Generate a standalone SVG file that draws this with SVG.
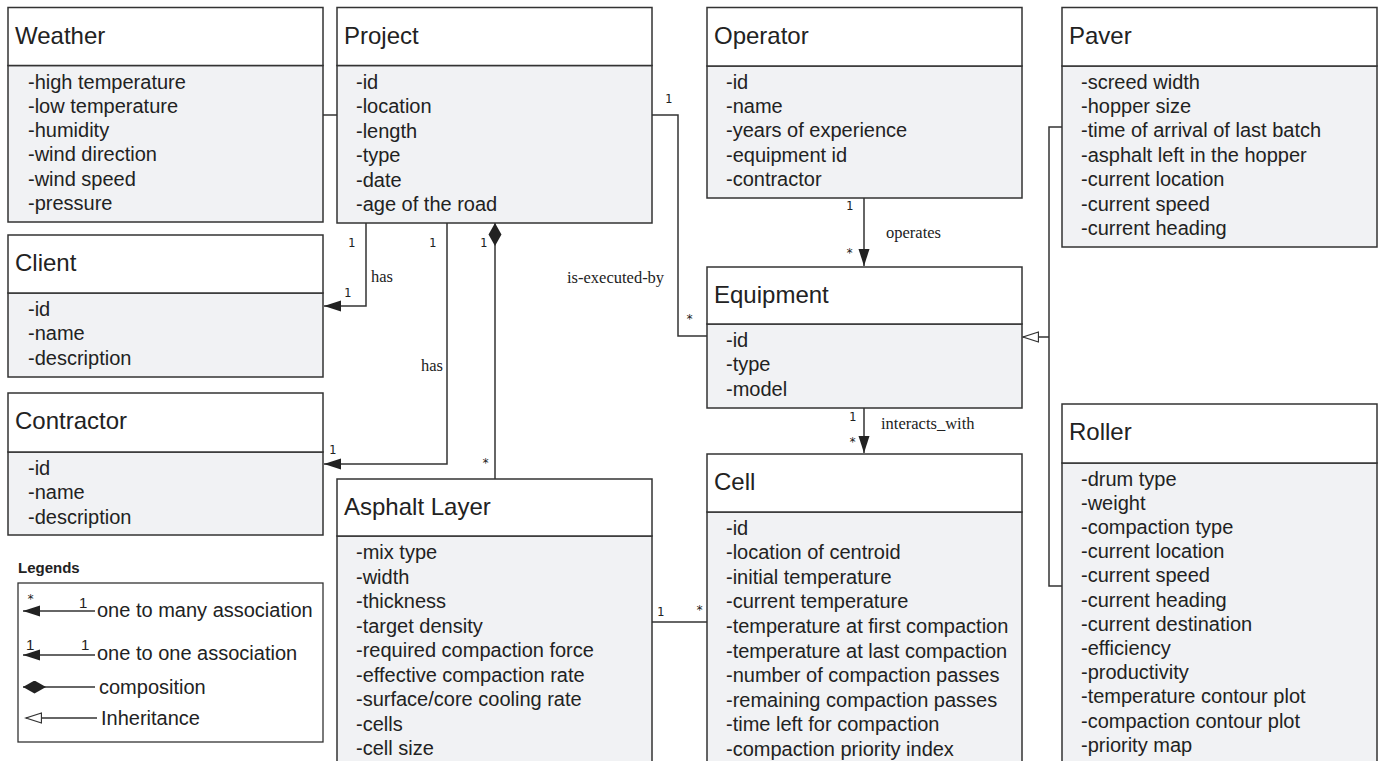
<svg xmlns="http://www.w3.org/2000/svg" width="1382" height="761" viewBox="0 0 1382 761">
<style>
.hdr{fill:#ffffff;stroke:#333;stroke-width:1.5}
.body{fill:#f1f2f4;stroke:#333;stroke-width:1.5}
.title{font-family:"Liberation Sans",Arial,sans-serif;font-size:24px;fill:#222}
.attr{font-family:"Liberation Sans",Arial,sans-serif;font-size:20px;fill:#222}
.conn{fill:none;stroke:#333;stroke-width:1.5}
.mult{font-family:"DejaVu Sans Mono",monospace;font-size:12px;fill:#222}
.lbl{font-family:"Liberation Serif","Times New Roman",serif;font-size:16.5px;fill:#222}
.leg{font-family:"Liberation Sans",Arial,sans-serif;font-size:20px;fill:#222}
.legn{font-family:"Liberation Sans",Arial,sans-serif;font-size:15px;fill:#222}
.legh{font-family:"Liberation Sans",Arial,sans-serif;font-size:15px;font-weight:bold;fill:#222}
</style>
<defs>
<marker id="arrow" markerUnits="userSpaceOnUse" markerWidth="18" markerHeight="12" refX="17" refY="5.5" orient="auto"><path d="M0,0 L17,5.5 L0,11 z" fill="#222"/></marker>
<marker id="diamond" markerUnits="userSpaceOnUse" markerWidth="24" markerHeight="14" refX="0" refY="6.5" orient="auto"><path d="M0,6.5 L11.5,0 L23,6.5 L11.5,13 z" fill="#222"/></marker>
<marker id="hollow" markerUnits="userSpaceOnUse" markerWidth="18" markerHeight="12" refX="16" refY="5.5" orient="auto"><path d="M0.5,0.5 L16,5.5 L0.5,10.5 z" fill="#fff" stroke="#333" stroke-width="1.3"/></marker>
</defs>
<rect width="1382" height="761" fill="#ffffff"/>

<g id="connectors">
<path class="conn" d="M323,115 H337"/>
<path class="conn" d="M366,223 V306 H324" marker-end="url(#arrow)"/>
<path class="conn" d="M447,223 V464 H324" marker-end="url(#arrow)"/>
<path class="conn" d="M495,223 V479" marker-start="url(#diamond)"/>
<path class="conn" d="M652,115 H678 V336 H707"/>
<path class="conn" d="M864,198 V266" marker-end="url(#arrow)"/>
<path class="conn" d="M864,408 V453" marker-end="url(#arrow)"/>
<path class="conn" d="M652,622 H707"/>
<path class="conn" d="M1062,127 H1049 V586 H1062"/>
<path class="conn" d="M1049,337 H1023" marker-end="url(#hollow)"/>
<text class="mult" x="665" y="103">1</text>
<text class="mult" x="348" y="247">1</text>
<text class="lbl" x="371" y="282">has</text>
<text class="mult" x="344" y="297">1</text>
<text class="mult" x="429" y="247">1</text>
<text class="lbl" x="421" y="371">has</text>
<text class="mult" x="329" y="454">1</text>
<text class="mult" x="480" y="247">1</text>
<text class="mult" x="482" y="467">*</text>
<text class="lbl" x="567" y="283">is-executed-by</text>
<text class="mult" x="686" y="323">*</text>
<text class="mult" x="846" y="210">1</text>
<text class="lbl" x="886" y="238">operates</text>
<text class="mult" x="846" y="257">*</text>
<text class="mult" x="849" y="421">1</text>
<text class="lbl" x="881" y="429">interacts_with</text>
<text class="mult" x="849" y="446">*</text>
<text class="mult" x="657" y="616">1</text>
<text class="mult" x="696" y="614">*</text>
</g>

<g id="weather">
<rect class="body" x="8" y="65.5" width="315" height="156.5"/>
<rect class="hdr" x="8" y="7.5" width="315" height="58"/>
<text class="title" x="15" y="43.5">Weather</text>
<text class="attr" x="28" y="88.5"><tspan x="28">-high temperature</tspan><tspan x="28" dy="24.3">-low temperature</tspan><tspan x="28" dy="24.3">-humidity</tspan><tspan x="28" dy="24.3">-wind direction</tspan><tspan x="28" dy="24.3">-wind speed</tspan><tspan x="28" dy="24.3">-pressure</tspan></text>
</g>

<g id="project">
<rect class="body" x="337" y="65.5" width="315" height="157.5"/>
<rect class="hdr" x="337" y="7.5" width="315" height="58"/>
<text class="title" x="344" y="43.5">Project</text>
<text class="attr" x="356" y="88.5"><tspan x="356">-id</tspan><tspan x="356" dy="24.5">-location</tspan><tspan x="356" dy="24.5">-length</tspan><tspan x="356" dy="24.5">-type</tspan><tspan x="356" dy="24.5">-date</tspan><tspan x="356" dy="24.5">-age of the road</tspan></text>
</g>

<g id="operator">
<rect class="body" x="707" y="66" width="315" height="132"/>
<rect class="hdr" x="707" y="7.5" width="315" height="58.5"/>
<text class="title" x="714" y="43.5">Operator</text>
<text class="attr" x="726" y="88.5"><tspan x="726">-id</tspan><tspan x="726" dy="24.4">-name</tspan><tspan x="726" dy="24.4">-years of experience</tspan><tspan x="726" dy="24.4">-equipment id</tspan><tspan x="726" dy="24.4">-contractor</tspan></text>
</g>

<g id="paver">
<rect class="body" x="1062" y="66" width="315" height="181"/>
<rect class="hdr" x="1062" y="7.5" width="315" height="58.5"/>
<text class="title" x="1069" y="43.5">Paver</text>
<text class="attr" x="1081" y="88.5"><tspan x="1081">-screed width</tspan><tspan x="1081" dy="24.4">-hopper size</tspan><tspan x="1081" dy="24.4">-time of arrival of last batch</tspan><tspan x="1081" dy="24.4">-asphalt left in the hopper</tspan><tspan x="1081" dy="24.4">-current location</tspan><tspan x="1081" dy="24.4">-current speed</tspan><tspan x="1081" dy="24.4">-current heading</tspan></text>
</g>

<g id="client">
<rect class="body" x="8" y="293" width="315" height="84"/>
<rect class="hdr" x="8" y="235" width="315" height="58"/>
<text class="title" x="15" y="271">Client</text>
<text class="attr" x="28" y="316"><tspan x="28">-id</tspan><tspan x="28" dy="24.4">-name</tspan><tspan x="28" dy="24.4">-description</tspan></text>
</g>

<g id="contractor">
<rect class="body" x="8" y="452" width="315" height="83"/>
<rect class="hdr" x="8" y="393" width="315" height="59"/>
<text class="title" x="15" y="429">Contractor</text>
<text class="attr" x="28" y="475"><tspan x="28">-id</tspan><tspan x="28" dy="24.4">-name</tspan><tspan x="28" dy="24.4">-description</tspan></text>
</g>

<g id="equipment">
<rect class="body" x="707" y="324" width="315" height="84"/>
<rect class="hdr" x="707" y="267" width="315" height="57"/>
<text class="title" x="714" y="303">Equipment</text>
<text class="attr" x="726" y="347"><tspan x="726">-id</tspan><tspan x="726" dy="24.4">-type</tspan><tspan x="726" dy="24.4">-model</tspan></text>
</g>

<g id="asphalt-layer">
<rect class="body" x="337" y="536" width="315" height="240"/>
<rect class="hdr" x="337" y="479" width="315" height="57"/>
<text class="title" x="344" y="515">Asphalt Layer</text>
<text class="attr" x="356" y="559"><tspan x="356">-mix type</tspan><tspan x="356" dy="24.5">-width</tspan><tspan x="356" dy="24.5">-thickness</tspan><tspan x="356" dy="24.5">-target density</tspan><tspan x="356" dy="24.5">-required compaction force</tspan><tspan x="356" dy="24.5">-effective compaction rate</tspan><tspan x="356" dy="24.5">-surface/core cooling rate</tspan><tspan x="356" dy="24.5">-cells</tspan><tspan x="356" dy="24.5">-cell size</tspan></text>
</g>

<g id="cell">
<rect class="body" x="707" y="512" width="315" height="264"/>
<rect class="hdr" x="707" y="454" width="315" height="58"/>
<text class="title" x="714" y="490">Cell</text>
<text class="attr" x="726" y="534.5"><tspan x="726">-id</tspan><tspan x="726" dy="24.6">-location of centroid</tspan><tspan x="726" dy="24.6">-initial temperature</tspan><tspan x="726" dy="24.6">-current temperature</tspan><tspan x="726" dy="24.6">-temperature at first compaction</tspan><tspan x="726" dy="24.6">-temperature at last compaction</tspan><tspan x="726" dy="24.6">-number of compaction passes</tspan><tspan x="726" dy="24.6">-remaining compaction passes</tspan><tspan x="726" dy="24.6">-time left for compaction</tspan><tspan x="726" dy="24.6">-compaction priority index</tspan></text>
</g>

<g id="roller">
<rect class="body" x="1062" y="463" width="315" height="313"/>
<rect class="hdr" x="1062" y="404" width="315" height="59"/>
<text class="title" x="1069" y="440">Roller</text>
<text class="attr" x="1081" y="485.5"><tspan x="1081">-drum type</tspan><tspan x="1081" dy="24.2">-weight</tspan><tspan x="1081" dy="24.2">-compaction type</tspan><tspan x="1081" dy="24.2">-current location</tspan><tspan x="1081" dy="24.2">-current speed</tspan><tspan x="1081" dy="24.2">-current heading</tspan><tspan x="1081" dy="24.2">-current destination</tspan><tspan x="1081" dy="24.2">-efficiency</tspan><tspan x="1081" dy="24.2">-productivity</tspan><tspan x="1081" dy="24.2">-temperature contour plot</tspan><tspan x="1081" dy="24.2">-compaction contour plot</tspan><tspan x="1081" dy="24.2">-priority map</tspan></text>
</g>

<g id="legend">
<text class="legh" x="18" y="573">Legends</text>
<rect x="18" y="583" width="305" height="159" fill="#fff" stroke="#333" stroke-width="1.3"/>
<path class="conn" d="M95,611 H23" marker-end="url(#arrow)"/>
<text class="mult" x="27" y="603">*</text>
<text class="legn" x="79" y="608">1</text>
<text class="leg" x="97" y="617">one to many association</text>
<path class="conn" d="M95,655 H23" marker-end="url(#arrow)"/>
<text class="legn" x="26" y="650">1</text>
<text class="legn" x="81" y="650">1</text>
<text class="leg" x="97" y="660">one to one association</text>
<path class="conn" d="M23,687 H95" marker-start="url(#diamond)"/>
<text class="leg" x="99" y="694">composition</text>
<path class="conn" d="M97,718 H26" marker-end="url(#hollow)"/>
<text class="leg" x="101" y="725">Inheritance</text>
</g>
</svg>
